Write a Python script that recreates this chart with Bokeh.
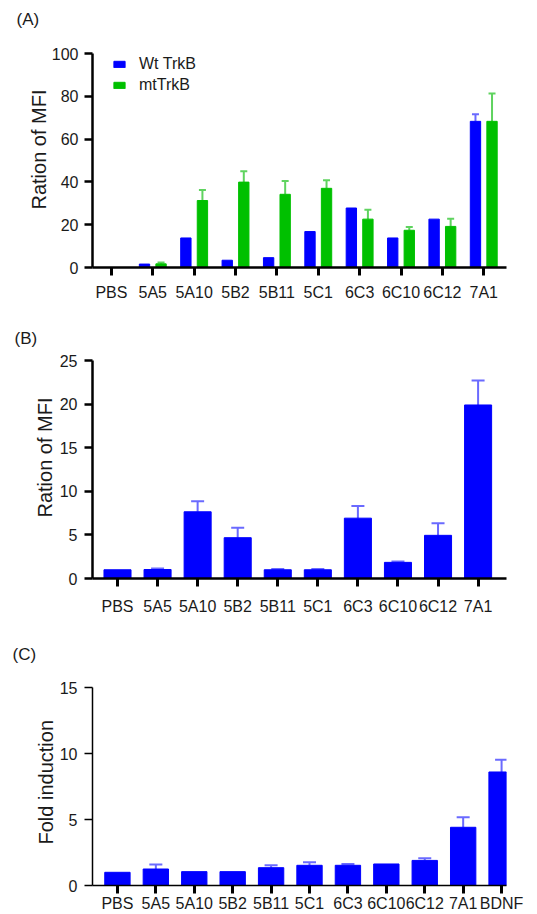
from bokeh.plotting import figure
from bokeh.models import (ColumnDataSource, Range1d, FixedTicker, Whisker, TeeHead,
                          Legend, LegendItem, Title)
from bokeh.layouts import column
from bokeh.embed import file_html
from bokeh.resources import INLINE

FONT = "Liberation Sans"
TXT = "#1a1a1a"
BLUE = "#0000ff"
GREEN = "#00c000"
BLUE_ERR = "#6a6aff"
GREEN_ERR = "#5fd35f"

# ---------------- data ----------------
cats_ab = ["PBS", "5A5", "5A10", "5B2", "5B11", "5C1", "6C3", "6C10", "6C12", "7A1"]

wt_mean = [0, 1.6, 13.8, 3.4, 4.6, 16.8, 27.8, 13.8, 22.6, 68.3]
wt_err = [0, 0, 0, 0, 0, 0, 0, 0, 0, 3.3]
mt_mean = [0, 1.7, 31.3, 39.9, 34.2, 37.0, 22.6, 17.4, 19.2, 68.3]
mt_err = [0, 0.6, 4.9, 5.1, 6.2, 3.8, 4.4, 1.5, 3.6, 13.0]

b_mean = [1.0, 1.03, 7.65, 4.68, 1.0, 1.0, 6.92, 1.85, 4.95, 19.9]
b_err = [0, 0.12, 1.2, 1.15, 0.08, 0.08, 1.4, 0.1, 1.38, 2.8]

cats_c = ["PBS", "5A5", "5A10", "5B2", "5B11", "5C1", "6C3", "6C10", "6C12", "7A1", "BDNF"]
c_mean = [1.0, 1.25, 1.05, 1.05, 1.35, 1.53, 1.53, 1.63, 1.9, 4.41, 8.6]
c_err = [0, 0.35, 0, 0, 0.18, 0.23, 0.1, 0, 0.16, 0.76, 0.93]

ticks_a = [0, 20, 40, 60, 80, 100]
ticks_b = [0, 5, 10, 15, 20, 25]
ticks_c = [0, 5, 10, 15]


def make_fig(height, xr, yr, top, bottom, left, right):
    p = figure(width=537, height=height, x_range=Range1d(*xr), y_range=Range1d(*yr),
               output_backend="svg", toolbar_location=None,
               min_border_top=top, min_border_bottom=bottom,
               min_border_left=left, min_border_right=right)
    p.outline_line_color = None
    p.xgrid.visible = False
    p.ygrid.visible = False
    p.background_fill_color = "white"
    p.border_fill_color = "white"
    p.title.text = ""
    return p


def style_axes(p, cats, yticks, axis_w, ytick_w, xstand, ystand):
    p.xaxis.ticker = FixedTicker(ticks=list(range(len(cats))))
    p.xaxis.major_label_overrides = {i: c for i, c in enumerate(cats)}
    p.yaxis.ticker = FixedTicker(ticks=yticks)
    for ax in (p.xaxis[0], p.yaxis[0]):
        ax.axis_line_color = "black"
        ax.axis_line_width = axis_w
        ax.major_tick_line_color = "black"
        ax.major_tick_in = 0
        ax.major_tick_out = 8
        ax.minor_tick_line_color = None
        ax.major_label_text_font = FONT
        ax.major_label_text_font_size = "16px"
        ax.major_label_text_color = TXT
    p.xaxis.major_label_text_align = "center"
    p.xaxis.major_tick_line_width = 3
    p.yaxis.major_tick_line_width = ytick_w
    p.xaxis.major_label_standoff = xstand
    p.yaxis.major_label_standoff = ystand


def panel_letter(p, text, offset, gap):
    # spacer (closest to the frame) then the letter itself
    p.add_layout(Title(text=" ", text_font_size="1px", standoff=gap - 3), "above")
    p.add_layout(Title(text=text, align="left", offset=offset, standoff=0,
                       text_font=FONT, text_font_size="17px", text_font_style="normal",
                       text_color=TXT), "above")


def ylabel(p, text, offset, standoff):
    t = Title(text=text, align="left", offset=offset, standoff=standoff,
              text_font=FONT, text_font_size="20px", text_font_style="normal",
              text_color=TXT)
    p.add_layout(t, "left")


def errs(xs, means, es, color, cap, p):
    xx = [x for x, e in zip(xs, es) if e > 0]
    lo = [m for m, e in zip(means, es) if e > 0]
    hi = [m + e for m, e in zip(means, es) if e > 0]
    src = ColumnDataSource(dict(x=xx, lo=lo, hi=hi))
    w = Whisker(source=src, base="x", lower="lo", upper="hi",
                line_color=color, line_width=2,
                lower_head=None,
                upper_head=TeeHead(size=cap, line_color=color, line_width=2))
    p.add_layout(w)


# ---------------- Panel A ----------------
pA = make_fig(310, (-0.457, 9.55), (0, 100), 53, 43, 88, 31)
xa = list(range(len(cats_ab)))
off = 0.2
bw = 0.25
rw = pA.vbar(x=[x - off for x in xa], top=wt_mean, width=bw, fill_color=BLUE, line_color=BLUE)
rm = pA.vbar(x=[x + off for x in xa], top=mt_mean, width=bw, fill_color=GREEN, line_color=GREEN)
errs([x - off for x in xa], wt_mean, wt_err, BLUE_ERR, 7, pA)
errs([x + off for x in xa], mt_mean, mt_err, GREEN_ERR, 7, pA)
style_axes(pA, cats_ab, ticks_a, 2.5, 2.5, 8, 6)
leg = Legend(items=[LegendItem(label="Wt TrkB", renderers=[rw]),
                    LegendItem(label="mtTrkB", renderers=[rm])],
             location=(20, 214 - 41), orientation="vertical",
             glyph_width=14, glyph_height=8, label_standoff=13,
             label_height=14, spacing=3, padding=0, margin=0,
             label_text_font=FONT, label_text_font_size="16px", label_text_color=TXT,
             border_line_color=None, background_fill_alpha=0)
pA.add_layout(leg)
panel_letter(pA, "(A)", -76, 25)
ylabel(pA, "Ration of MFI", 58, -3)

# ---------------- Panel B ----------------
pB = make_fig(310, (-0.624, 9.709), (0, 25), 50, 42, 92, 26)
xb = list(range(len(cats_ab)))
pB.vbar(x=xb, top=b_mean, width=0.675, fill_color=BLUE, line_color=BLUE)
errs(xb, b_mean, b_err, BLUE_ERR, 13, pB)
style_axes(pB, cats_ab, ticks_b, 2.5, 2.5, 11, 7)
panel_letter(pB, "(B)", -78, 13)
ylabel(pB, "Ration of MFI", 61, 2)

# ---------------- Panel C ----------------
pC = make_fig(294, (-0.649, 10.128), (0, 15), 67, 28, 92, 17)
xc = list(range(len(cats_c)))
pC.vbar(x=xc, top=c_mean, width=0.66, fill_color=BLUE, line_color=BLUE)
errs(xc, c_mean, c_err, BLUE_ERR, 13, pC)
style_axes(pC, cats_c, ticks_c, 1.5, 1.5, 1, 7)
panel_letter(pC, "(C)", -80, 24)
ylabel(pC, "Fold induction", 41, 0)

layout = column(pA, pB, pC, spacing=0)
open("out.html", "w").write(file_html(layout, INLINE))
